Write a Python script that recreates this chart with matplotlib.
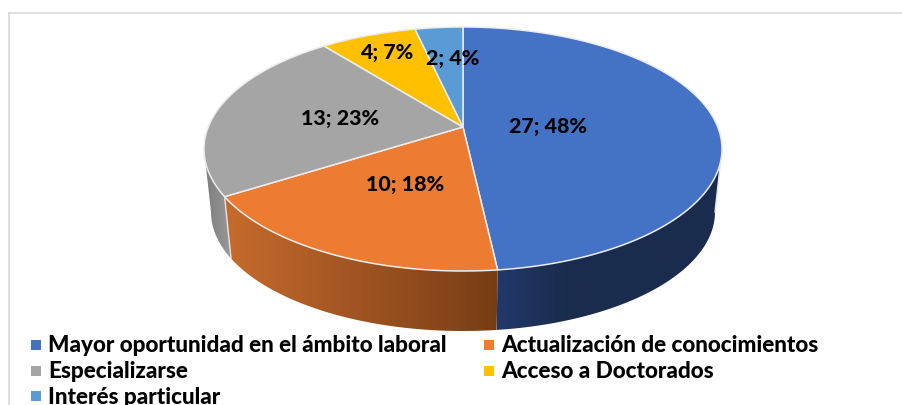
import numpy as np
import matplotlib as mpl
from matplotlib import pyplot as plt
from matplotlib.patches import Polygon
from matplotlib.colors import LinearSegmentedColormap

categories = ['Mayor oportunidad en el ámbito laboral', 'Actualización de conocimientos',
              'Especializarse', 'Acceso a Doctorados', 'Interés particular']
counts = [27, 10, 13, 4, 2]
colors = ['#4472C4', '#EB7C31', '#A5A5A5', '#FFC000', '#5B9BD5']
wall_colors = [('#21386a', '#1a2c4e'), ('#c66b2d', '#773d15'), ('#7c7c7c', '#9a9a9a'), None, None]
label_pos = [(548, 126), (405, 185), (340, 118), (387, 53), (453, 59)]
legend_pos = [(36, 344), (489, 344), (36, 370), (489, 370), (36, 395)]

plt.rcParams['font.family'] = ['Lato', 'DejaVu Sans']

# the pie is laid out in image pixels, top face + a lower rim slightly narrower
cx, cy, rx, ry = 463, 149, 259, 122
apex = np.array([463., 127.])
bx, by, brx, bry = 463, 212, 252, 119
squash = 2.15


def rim_angle(frac):
    # ray from the off-centre apex to the top ellipse, returns ellipse parameter
    t = 2*np.pi*frac
    d = np.array([np.sin(t)*squash, -np.cos(t)])
    ox, oy = (apex[0]-cx)/rx, (apex[1]-cy)/ry
    dx, dy = d[0]/rx, d[1]/ry
    a = dx*dx+dy*dy
    b = 2*(ox*dx+oy*dy)
    c = ox*ox+oy*oy-1
    s = (-b+np.sqrt(b*b-4*a*c))/(2*a)
    return np.arctan2(ox+s*dx, -(oy+s*dy))


def top_xy(p):
    return cx+rx*np.sin(p), cy-ry*np.cos(p)


def bot_xy(p):
    return bx+brx*np.sin(p), by-bry*np.cos(p)


fig = plt.figure(figsize=(9.02, 4.05), dpi=100)
ax = fig.add_axes([0, 0, 1, 1])

fracs = np.concatenate([[0], np.cumsum(counts)/np.sum(counts)])
angles = [rim_angle(f) for f in fracs]
angles = np.unwrap(angles)
if angles[1] < 0:
    angles = angles+2*np.pi

# side walls first, only the part facing us
for i in range(5):
    if wall_colors[i] is None:
        continue
    lo = max(angles[i], np.pi/2)
    hi = min(angles[i+1], 3*np.pi/2)
    if lo >= hi:
        continue
    p = np.linspace(lo, hi, 120)
    tx, ty = top_xy(p)
    ox, oy = bot_xy(p)
    poly = Polygon(np.column_stack([np.r_[tx, ox[::-1]], np.r_[ty, oy[::-1]]]), closed=True,
                   facecolor='none', edgecolor='none', transform=ax.transData)
    ax.add_patch(poly)
    x0, x1 = min(tx.min(), ox.min()), max(tx.max(), ox.max())
    if i == 0:
        stops = [(0, wall_colors[i][0]), (0.3, wall_colors[i][1]), (1, wall_colors[i][1])]
    else:
        stops = [(0, wall_colors[i][0]), (1, wall_colors[i][1])]
    cmap = LinearSegmentedColormap.from_list('wall%d' % i, stops)
    im = ax.imshow(np.linspace(0, 1, 256).reshape(1, -1), cmap=cmap, aspect='auto',
                   extent=(x0, x1, oy.max(), ty.min()), zorder=1)
    im.set_clip_path(poly)
    if i < 2:
        # seam down the wall at the slice's far end
        ax.plot([tx[-1] if i == 1 else tx[0], ox[-1] if i == 1 else ox[0]],
                [ty[-1] if i == 1 else ty[0], oy[-1] if i == 1 else oy[0]],
                color='#e6e6e6', lw=1.0, zorder=2)

# top face
for i in range(5):
    p = np.linspace(angles[i], angles[i+1], 200)
    tx, ty = top_xy(p)
    verts = np.column_stack([np.r_[apex[0], tx], np.r_[apex[1], ty]])
    ax.add_patch(Polygon(verts, closed=True, facecolor=colors[i], edgecolor='#ececec',
                         lw=1.1, joinstyle='round', zorder=3))

total = sum(counts)
for v, (lx, ly) in zip(counts, label_pos):
    ax.text(lx, ly, '%d; %d%%' % (v, round(100*v/total)), ha='center', va='center',
            fontsize=15.4, fontweight=900, color='black', zorder=5)

# legend
for name, col, (mx, my) in zip(categories, colors, legend_pos):
    ax.scatter([mx], [my+1], marker='s', s=42, color=col, linewidths=0, zorder=5)
    ax.text(mx+12, my, name, ha='left', va='center_baseline', fontsize=16.2, fontweight=900,
            color='black', zorder=5)

# chart frame
ax.plot([9, 9], [405, 13], color='#d9d9d9', lw=1.2, zorder=0)
ax.plot([9, 902], [13, 13], color='#d9d9d9', lw=1.2, zorder=0)

ax.set_xlim(0, 902)
ax.set_ylim(405, 0)
ax.axis('off')
fig.savefig('out.png', dpi=100)
